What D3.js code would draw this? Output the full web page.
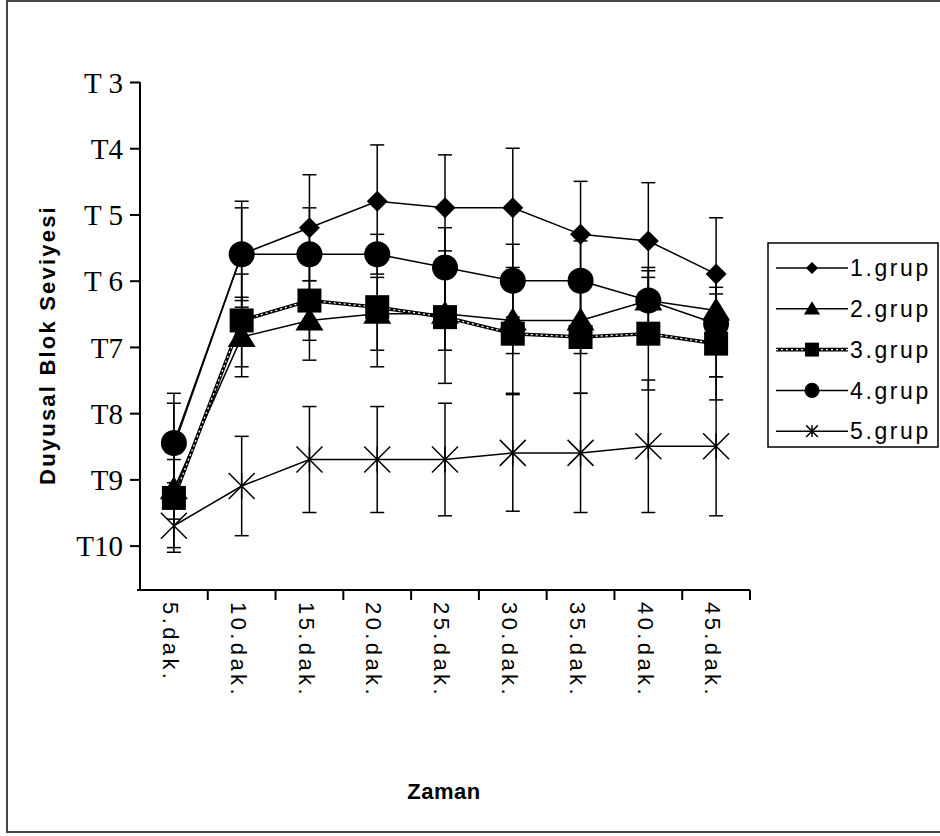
<!DOCTYPE html>
<html>
<head>
<meta charset="utf-8">
<script src="https://cdn.jsdelivr.net/npm/d3@7"></script>
<style>
  body { margin: 0; background: #fff; }
  svg { display: block; }
</style>
</head>
<body>
<svg id="chart" width="940" height="836"></svg>
<script>
const categories = ['5.dak.', '10.dak.', '15.dak.', '20.dak.', '25.dak.', '30.dak.', '35.dak.', '40.dak.', '45.dak.']
const yTicks = [3, 4, 5, 6, 7, 8, 9, 10]
const yTickLabels = ['T 3', 'T4', 'T 5', 'T 6', 'T7', 'T8', 'T9', 'T10']
const groupNames = ['1.grup', '2.grup', '3.grup', '4.grup', '5.grup']

const grup1 = [8.5, 5.6, 5.2, 4.8, 4.9, 4.9, 5.3, 5.4, 5.9]
const grup1Err = [0.8, 0.8, 0.8, 0.85, 0.8, 0.9, 0.8, 0.88, 0.85]
const grup2 = [9.15, 6.85, 6.6, 6.5, 6.5, 6.6, 6.6, 6.3, 6.45]
const grup2Err = [0.45, 0.6, 0.6, 0.55, 0.55, 0.5, 0.5, 0.5, 0.25]
const grup3 = [9.28, 6.6, 6.3, 6.4, 6.55, 6.8, 6.85, 6.8, 6.95]
const grup3Err = [0.75, 0.7, 0.6, 0.9, 1.0, 0.9, 0.85, 0.85, 0.85]
const grup4 = [8.45, 5.6, 5.6, 5.6, 5.8, 6.0, 6.0, 6.3, 6.65]
const grup4Err = [0.6, 0.7, 0.7, 0.3, 0.6, 0.55, 0.6, 0.45, 0.8]
const grup5 = [9.7, 9.1, 8.7, 8.7, 8.7, 8.6, 8.6, 8.5, 8.5]
const grup5Err = [0.4, 0.75, 0.8, 0.8, 0.85, 0.88, 0.9, 1.0, 1.05]

const series = [
  { name: groupNames[0], values: grup1, errors: grup1Err, marker: 'diamond', chain: false },
  { name: groupNames[1], values: grup2, errors: grup2Err, marker: 'triangle', chain: false },
  { name: groupNames[2], values: grup3, errors: grup3Err, marker: 'square', chain: true },
  { name: groupNames[3], values: grup4, errors: grup4Err, marker: 'circle', chain: false },
  { name: groupNames[4], values: grup5, errors: grup5Err, marker: 'star', chain: false },
]
// triangles sit on top of the squares in the original
const markerOrder = [0, 2, 1, 3, 4]

const svg = d3.select('#chart')
const plot = { left: 140, right: 750, top: 82, bottom: 590 }
const font = '"Liberation Sans", Arial, sans-serif'

// outer frame
svg.append('rect')
  .attr('x', 7).attr('y', 1)
  .attr('width', 945).attr('height', 831)
  .attr('fill', 'none')
  .attr('stroke', '#444')
  .attr('stroke-width', 2)

const x = d3.scaleBand().domain(categories).range([plot.left, plot.right]).padding(0)
const y = d3.scaleLinear().domain([3, 10.67]).range([plot.top, plot.bottom])
const cx = (c) => x(c) + x.bandwidth() / 2

// y axis
const yAxis = svg.append('g')
  .attr('transform', `translate(${plot.left},0)`)
  .call(d3.axisLeft(y).tickValues(yTicks).tickSize(10).tickSizeOuter(0)
    .tickFormat((d, i) => yTickLabels[i]))
yAxis.select('.domain').attr('stroke', '#000').attr('stroke-width', 2)
  .attr('d', `M0,${plot.top}V${plot.bottom}`)
yAxis.selectAll('.tick line').attr('stroke', '#000').attr('stroke-width', 2)
yAxis.selectAll('.tick text')
  .attr('x', -17)
  .attr('dy', '0.35em')
  .style('font-family', '"Liberation Serif", "Times New Roman", serif')
  .style('font-size', '29px')
  .attr('fill', '#000')

// x axis
const xAxis = svg.append('g').attr('transform', `translate(0,${plot.bottom})`)
xAxis.append('line')
  .attr('x1', plot.left - 3).attr('x2', plot.right)
  .attr('stroke', '#000').attr('stroke-width', 2)
xAxis.selectAll('.xtick')
  .data(categories.slice(1).map((c) => x(c)).concat([plot.right]))
  .join('line')
  .attr('class', 'xtick')
  .attr('x1', (d) => d).attr('x2', (d) => d)
  .attr('y1', 0).attr('y2', 10)
  .attr('stroke', '#000').attr('stroke-width', 2)
xAxis.selectAll('.xlabel')
  .data(categories)
  .join('text')
  .attr('class', 'xlabel')
  .attr('transform', (d) => `translate(${cx(d) - 5},12) rotate(90)`)
  .attr('dominant-baseline', 'middle')
  .style('font-family', font)
  .style('font-size', '22px')
  .style('letter-spacing', '3.4px')
  .text((d) => d)

// axis titles
svg.append('text')
  .attr('transform', 'translate(55,345) rotate(-90)')
  .attr('text-anchor', 'middle')
  .style('font-family', font)
  .style('font-weight', 'bold')
  .style('font-size', '22px')
  .style('letter-spacing', '2.2px')
  .text('Duyusal Blok Seviyesi')

svg.append('text')
  .attr('x', 444).attr('y', 799)
  .attr('text-anchor', 'middle')
  .style('font-family', font)
  .style('font-weight', 'bold')
  .style('font-size', '22px')
  .style('letter-spacing', '0.5px')
  .text('Zaman')

function drawMarker(g, type, k) {
  if (type === 'diamond') {
    g.append('path').attr('d', `M0,${-10.5 * k}L${10.5 * k},0L0,${10.5 * k}L${-10.5 * k},0Z`).attr('fill', '#000')
  } else if (type === 'triangle') {
    g.append('path').attr('d', `M0,${-13 * k}L${14 * k},${10 * k}L${-14 * k},${10 * k}Z`).attr('fill', '#000')
  } else if (type === 'square') {
    g.append('rect').attr('x', -12 * k).attr('y', -12 * k).attr('width', 24 * k).attr('height', 24 * k).attr('fill', '#000')
  } else if (type === 'circle') {
    g.append('circle').attr('r', 13 * k).attr('fill', '#000')
  } else if (type === 'star') {
    const s = 13 * k
    g.append('path')
      .attr('d', `M${-s},${-s}L${s},${s}M${s},${-s}L${-s},${s}M0,${-s}L0,${s}`)
      .attr('stroke', '#000').attr('stroke-width', 1.5).attr('fill', 'none')
  }
}

function drawLine(g, pathD, chain) {
  if (chain) {
    g.append('path').attr('d', pathD).attr('fill', 'none')
      .attr('stroke', '#000').attr('stroke-width', 3.6)
    g.append('path').attr('d', pathD).attr('fill', 'none')
      .attr('stroke', '#fff').attr('stroke-width', 1.3)
      .attr('stroke-dasharray', '2 3')
  } else {
    g.append('path').attr('d', pathD).attr('fill', 'none')
      .attr('stroke', '#000').attr('stroke-width', 1.5)
  }
}

const line = d3.line().x((d) => cx(d.cat)).y((d) => y(d.v))
const pointsOf = (s) => categories.map((c, i) => ({ cat: c, v: s.values[i], e: s.errors[i] }))

// error bars and lines
series.forEach((s) => {
  const pts = pointsOf(s)
  const g = svg.append('g')

  const eb = g.selectAll('.err').data(pts).join('g').attr('class', 'err')
  eb.append('line')
    .attr('x1', (d) => cx(d.cat)).attr('x2', (d) => cx(d.cat))
    .attr('y1', (d) => y(d.v - d.e)).attr('y2', (d) => y(d.v + d.e))
    .attr('stroke', '#000').attr('stroke-width', 1.5)
  ;[-1, 1].forEach((sign) => {
    eb.append('line')
      .attr('x1', (d) => cx(d.cat) - 7).attr('x2', (d) => cx(d.cat) + 7)
      .attr('y1', (d) => y(d.v + sign * d.e)).attr('y2', (d) => y(d.v + sign * d.e))
      .attr('stroke', '#000').attr('stroke-width', 1.5)
  })

  drawLine(g, line(pts), s.chain)
})

// markers
markerOrder.forEach((idx) => {
  const s = series[idx]
  svg.append('g').selectAll('.mk').data(pointsOf(s)).join('g')
    .attr('class', 'mk')
    .attr('transform', (d) => `translate(${cx(d.cat)},${y(d.v)})`)
    .each(function () { drawMarker(d3.select(this), s.marker, 1) })
})

// legend
const legend = svg.append('g').attr('transform', 'translate(768,243)')
legend.append('rect')
  .attr('width', 170).attr('height', 204)
  .attr('fill', '#fff').attr('stroke', '#000').attr('stroke-width', 1.5)
const rows = legend.selectAll('.row').data(series).join('g')
  .attr('class', 'row')
  .attr('transform', (d, i) => `translate(0,${25 + i * 40.8})`)
rows.each(function (d) {
  const r = d3.select(this)
  drawLine(r, 'M8,0H80', d.chain)
  const m = r.append('g').attr('transform', 'translate(44,0)')
  drawMarker(m, d.marker, d.marker === 'star' ? 0.45 : 0.58)
})
rows.append('text')
  .attr('x', 82).attr('dy', '0.36em')
  .style('font-family', font)
  .style('font-size', '23px')
  .style('letter-spacing', '2.6px')
  .text((d) => d.name)
</script>
</body>
</html>
